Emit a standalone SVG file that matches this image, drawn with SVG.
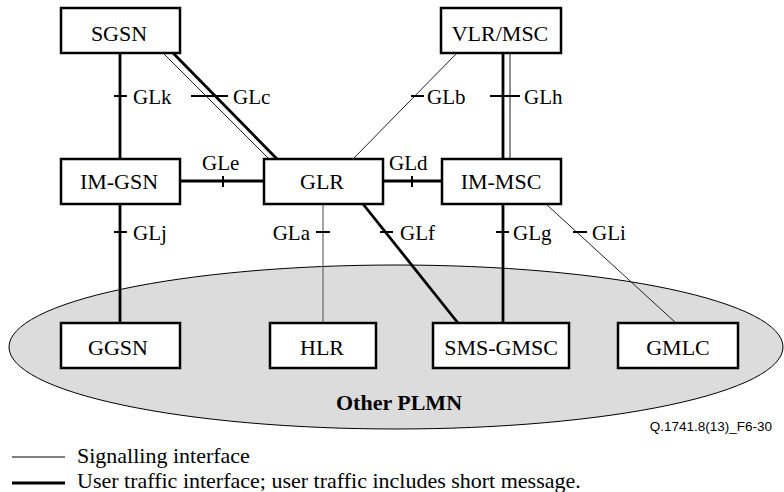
<svg xmlns="http://www.w3.org/2000/svg" width="784" height="492" viewBox="0 0 784 492">
<rect width="784" height="492" fill="#fff"/>
<ellipse id="other-plmn" cx="396" cy="347" rx="387" ry="82" fill="#dcdcdc" stroke="#000" stroke-width="1"/>
<g id="connectors" fill="none">
  <g stroke="#000" stroke-width="2.8">
    <line x1="120" y1="53" x2="120" y2="159"/>
    <line x1="173" y1="53" x2="277" y2="159"/>
    <line x1="503" y1="53" x2="503" y2="159"/>
    <line x1="180" y1="181" x2="264" y2="181"/>
    <line x1="383" y1="181" x2="442" y2="181"/>
    <line x1="120" y1="204" x2="120" y2="323"/>
    <line x1="363" y1="204" x2="458" y2="323"/>
    <line x1="503" y1="204" x2="503" y2="323"/>
  </g>
  <g stroke="#222" stroke-width="1">
    <line x1="163" y1="53" x2="269" y2="159"/>
    <line x1="457" y1="53" x2="353" y2="159"/>
    <line x1="510" y1="53" x2="510" y2="159"/>
    <line x1="546" y1="204" x2="676" y2="323"/>
  </g>
  <line x1="323" y1="204" x2="323" y2="323" stroke="#666" stroke-width="1.2"/>
  <g stroke="#000" stroke-width="2">
    <line x1="114" y1="96" x2="127" y2="96"/>
    <line x1="191" y1="96" x2="228" y2="96"/>
    <line x1="411" y1="96" x2="424" y2="96"/>
    <line x1="490" y1="96" x2="520" y2="96"/>
    <line x1="223" y1="176" x2="223" y2="187"/>
    <line x1="412" y1="176" x2="412" y2="187"/>
    <line x1="114" y1="232" x2="127" y2="232"/>
    <line x1="316" y1="232" x2="330" y2="232"/>
    <line x1="380" y1="232" x2="393" y2="232"/>
    <line x1="496" y1="232" x2="509" y2="232"/>
    <line x1="573" y1="232" x2="587" y2="232"/>
  </g>
  <text x="133" y="104" font-family="Times New Roman" font-size="21" fill="#000">GLk</text>
  <text x="233" y="104" font-family="Times New Roman" font-size="21" fill="#000">GLc</text>
  <text x="427" y="104" font-family="Times New Roman" font-size="21" fill="#000">GLb</text>
  <text x="524" y="104" font-family="Times New Roman" font-size="21" fill="#000">GLh</text>
  <text x="202" y="170" font-family="Times New Roman" font-size="21" fill="#000">GLe</text>
  <text x="389" y="170" font-family="Times New Roman" font-size="21" fill="#000">GLd</text>
  <text x="133" y="240" font-family="Times New Roman" font-size="21" fill="#000">GLj</text>
  <text x="310" y="240" font-family="Times New Roman" font-size="21" fill="#000" text-anchor="end">GLa</text>
  <text x="400" y="240" font-family="Times New Roman" font-size="21" fill="#000">GLf</text>
  <text x="513" y="240" font-family="Times New Roman" font-size="21" fill="#000">GLg</text>
  <text x="592" y="240" font-family="Times New Roman" font-size="21" fill="#000">GLi</text>
</g>
<g id="nodes">
  <g id="SGSN"><rect x="61" y="8" width="119" height="45" fill="#fff" stroke="#000" stroke-width="2.5"/><text x="119" y="41" font-family="Times New Roman" font-size="22" text-anchor="middle">SGSN</text></g>
  <g id="VLR-MSC"><rect x="441" y="8" width="120" height="45" fill="#fff" stroke="#000" stroke-width="2.5"/><text x="500" y="41" font-family="Times New Roman" font-size="22" text-anchor="middle">VLR/MSC</text></g>
  <g id="IM-GSN"><rect x="61" y="159" width="119" height="45" fill="#fff" stroke="#000" stroke-width="2.5"/><text x="119" y="189" font-family="Times New Roman" font-size="22" text-anchor="middle">IM-GSN</text></g>
  <g id="GLR"><rect x="264" y="159" width="119" height="45" fill="#fff" stroke="#000" stroke-width="2.5"/><text x="322" y="189" font-family="Times New Roman" font-size="22" text-anchor="middle">GLR</text></g>
  <g id="IM-MSC"><rect x="442" y="159" width="119" height="45" fill="#fff" stroke="#000" stroke-width="2.5"/><text x="501" y="189" font-family="Times New Roman" font-size="22" text-anchor="middle">IM-MSC</text></g>
  <g id="GGSN"><rect x="61" y="323" width="119" height="45" fill="#fff" stroke="#000" stroke-width="2.5"/><text x="118" y="355" font-family="Times New Roman" font-size="22" text-anchor="middle">GGSN</text></g>
  <g id="HLR"><rect x="270" y="323" width="106" height="45" fill="#fff" stroke="#000" stroke-width="2.5"/><text x="322" y="355" font-family="Times New Roman" font-size="22" text-anchor="middle">HLR</text></g>
  <g id="SMS-GMSC"><rect x="433" y="323" width="136" height="45" fill="#fff" stroke="#000" stroke-width="2.5"/><text x="501" y="355" font-family="Times New Roman" font-size="22" text-anchor="middle">SMS-GMSC</text></g>
  <g id="GMLC"><rect x="618" y="323" width="120" height="45" fill="#fff" stroke="#000" stroke-width="2.5"/><text x="678" y="355" font-family="Times New Roman" font-size="22" text-anchor="middle">GMLC</text></g>
</g>
<text x="399" y="410" font-family="Times New Roman" font-size="22" font-weight="bold" text-anchor="middle">Other PLMN</text>
<text x="772" y="431" font-family="Liberation Sans" font-size="13.5" text-anchor="end">Q.1741.8(13)_F6-30</text>
<g id="legend">
  <line x1="12" y1="457" x2="65" y2="457" stroke="#000" stroke-width="1"/>
  <text x="77" y="463" font-family="Times New Roman" font-size="22">Signalling interface</text>
  <line x1="12" y1="483" x2="65" y2="483" stroke="#000" stroke-width="3"/>
  <text x="77" y="488" font-family="Times New Roman" font-size="22">User traffic interface; user traffic includes short message.</text>
</g>
</svg>
